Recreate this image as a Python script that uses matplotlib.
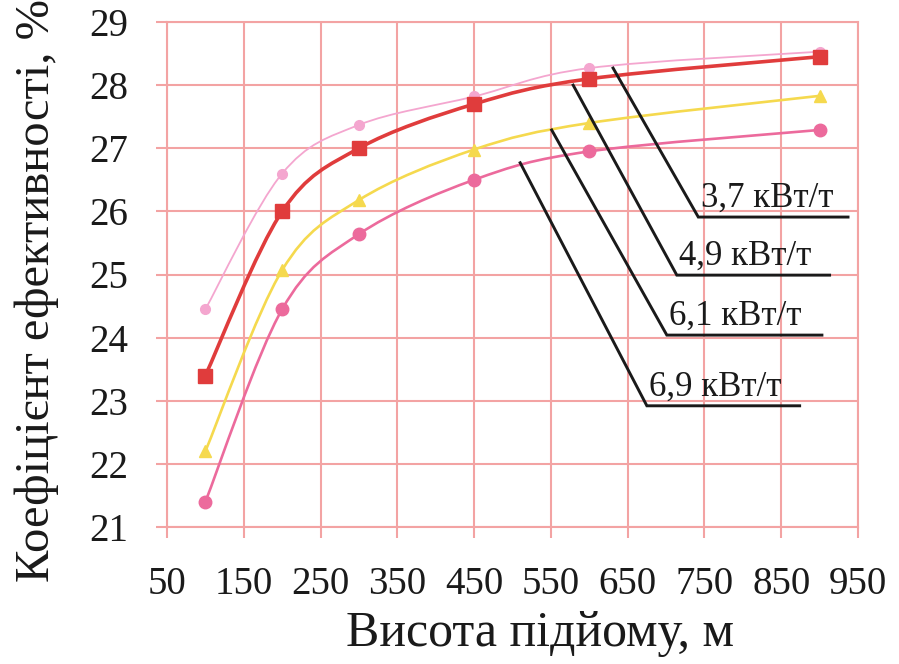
import numpy as np
import matplotlib
matplotlib.use('Agg')
import matplotlib.pyplot as plt
from matplotlib.path import Path
from matplotlib.patches import PathPatch

plt.rcParams['font.family'] = ['Liberation Serif', 'DejaVu Serif']

# дані
heights = [100, 200, 300, 450, 600, 900]
eff_37 = [24.45, 26.6, 27.37, 27.82, 28.27, 28.53]
eff_49 = [23.4, 26.0, 27.0, 27.7, 28.1, 28.45]
eff_61 = [22.2, 25.07, 26.18, 26.98, 27.4, 27.83]
eff_69 = [21.4, 24.45, 25.64, 26.5, 26.95, 27.29]
labels = ['3,7 кВт/т', '4,9 кВт/т', '6,1 кВт/т', '6,9 кВт/т']
x_ticks = [50, 150, 250, 350, 450, 550, 650, 750, 850, 950]
y_ticks = [21, 22, 23, 24, 25, 26, 27, 28, 29]

series = [eff_37, eff_49, eff_61, eff_69]
colors = ['#f4a6cf', '#e03c3c', '#f5d94e', '#ec6a9c']
markers = ['o', 's', '^', 'o']
msizes = [7, 10, 8, 9]
lwidths = [1.3, 2.6, 1.9, 1.9]

# виноски: початок на кривій, злам, кінець підкреслення
leaders = [
    ((631, 28.27), (742, 25.91), 937),
    ((579, 28.0), (714, 24.99), 913),
    ((551, 27.29), (701, 24.04), 903),
    ((510, 26.77), (675, 22.92), 874),
]


def smooth_path(x, y):
    # згладжена лінія як в Excel (Catmull-Rom через криві Безьє)
    pts = np.column_stack([x, y]).astype(float)
    n = len(pts)
    verts = [pts[0]]
    codes = [Path.MOVETO]
    for i in range(n - 1):
        p0 = pts[max(i - 1, 0)]
        p1 = pts[i]
        p2 = pts[i + 1]
        p3 = pts[min(i + 2, n - 1)]
        verts += [p1 + (p2 - p0) / 6, p2 - (p3 - p1) / 6, p2]
        codes += [Path.CURVE4] * 3
    return Path(verts, codes)


fig = plt.figure(figsize=(8.99, 6.64), dpi=100)
ax = fig.add_axes([167 / 899, 1 - 527 / 664, 691 / 899, 505 / 664])

grid_c = '#f3a3a3'
for s, c, m, ms, lw in zip(series, colors, markers, msizes, lwidths):
    ax.add_patch(PathPatch(smooth_path(heights, s), fill=False, edgecolor=c, lw=lw, zorder=3))
    ax.plot(heights, s, linestyle='none', marker=m, ms=ms, color=c, zorder=4)

for (start, knee, end_x), lab in zip(leaders, labels):
    ax.plot([start[0], knee[0], end_x], [start[1], knee[1], knee[1]],
            color='#1a1a1a', lw=2.1, zorder=5, solid_joinstyle='miter')
    ax.text(knee[0] + 3, knee[1] + 0.04, lab, fontsize=25, ha='left', va='bottom',
            color='#1a1a1a', zorder=6)

ax.set_xlim(50, 950)
ax.set_ylim(21, 29)
ax.set_xticks(x_ticks)
ax.set_yticks(y_ticks)
ax.grid(True, color=grid_c, lw=1.5)
ax.set_axisbelow(True)
for sp in ax.spines.values():
    sp.set_color(grid_c)
    sp.set_linewidth(1.5)
ax.tick_params(axis='both', colors=grid_c, length=8, width=1.5, labelsize=28,
               labelcolor='#1a1a1a')
ax.tick_params(axis='x', pad=20)
ax.tick_params(axis='y', pad=20)

fig.text(37 / 899, 1 - 290 / 664, 'Коефіцієнт ефективності, %', rotation=90,
         ha='center', va='center', fontsize=35, color='#1a1a1a')
fig.text(540 / 899, 1 - 634 / 664, 'Висота підйому, м', ha='center', va='center',
         fontsize=36, color='#1a1a1a')

fig.savefig('out.png', dpi=100)
